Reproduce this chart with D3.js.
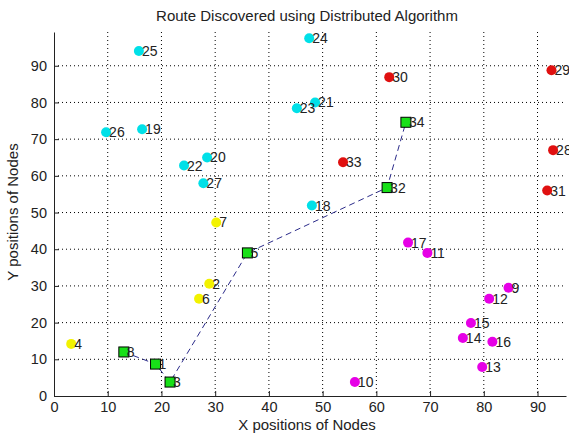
<!DOCTYPE html>
<html>
<head>
<meta charset="utf-8">
<script src="https://cdn.jsdelivr.net/npm/d3@7"></script>
<style>
  body { margin: 0; background: #fff; }
  text { font-family: "Liberation Sans", Arial, sans-serif; fill: #222; }
</style>
</head>
<body>
<svg id="chart" width="569" height="434"></svg>
<script>
// node positions
const nodeIds = [1, 2, 3, 4, 5, 6, 7, 8, 9, 10, 11, 12, 13, 14, 15, 16, 17, 18, 19, 20, 21, 22, 23, 24, 25, 26, 27, 28, 29, 30, 31, 32, 33, 34];
const nodeX = [18.9, 28.9, 21.6, 3.2, 36.0, 27.0, 30.2, 13.0, 84.6, 56.0, 69.5, 81.0, 79.7, 76.1, 77.6, 81.6, 65.9, 48.0, 16.4, 28.5, 48.6, 24.2, 45.2, 47.5, 15.8, 9.7, 27.8, 92.9, 92.6, 62.4, 91.8, 62.0, 53.8, 65.5];
const nodeY = [8.7, 30.6, 3.8, 14.2, 39.0, 26.5, 47.3, 12.0, 29.5, 3.8, 39.0, 26.5, 7.9, 15.8, 19.9, 14.8, 41.8, 51.9, 72.7, 65.0, 80.0, 62.8, 78.4, 97.5, 94.0, 71.9, 58.0, 67.0, 88.8, 86.9, 56.0, 56.8, 63.7, 74.6];
// cluster of each node
const nodeGroup = ["y", "y", "y", "y", "y", "y", "y", "y", "m", "m", "m", "m", "m", "m", "m", "m", "m", "c", "c", "c", "c", "c", "c", "c", "c", "c", "c", "r", "r", "r", "r", "r", "r", "r"];
const route = [8, 1, 3, 5, 32, 34];
const xTicks = [0, 10, 20, 30, 40, 50, 60, 70, 80, 90];
const yTicks = [0, 10, 20, 30, 40, 50, 60, 70, 80, 90];

const groupColor = { y: "#f2f200", m: "#e600e6", c: "#00e0e8", r: "#e01010" };

const svg = d3.select("#chart");
const margin = { top: 32, right: 3, bottom: 38, left: 54 };
const width = 569 - margin.left - margin.right;
const height = 434 - margin.top - margin.bottom;

const x = d3.scaleLinear().domain([0, 95.3]).range([0, width]);
const y = d3.scaleLinear().domain([0, 99.2]).range([height, 0]);

const g = svg.append("g")
  .attr("transform", "translate(" + margin.left + "," + margin.top + ")");

// dotted grid
g.selectAll(".vgrid").data(xTicks.slice(1)).enter().append("line")
  .attr("x1", d => x(d)).attr("x2", d => x(d))
  .attr("y1", 0).attr("y2", height)
  .attr("stroke", "#000").attr("stroke-width", 1)
  .attr("stroke-dasharray", "1,3");
g.selectAll(".hgrid").data(yTicks.slice(1)).enter().append("line")
  .attr("x1", 0).attr("x2", width)
  .attr("y1", d => y(d)).attr("y2", d => y(d))
  .attr("stroke", "#000").attr("stroke-width", 1)
  .attr("stroke-dasharray", "1,3");

// axes with inward ticks
const xAxis = g.append("g")
  .attr("transform", "translate(0," + height + ")")
  .call(d3.axisBottom(x).tickValues(xTicks).tickSize(-5).tickPadding(6).tickSizeOuter(0));
const yAxis = g.append("g")
  .call(d3.axisLeft(y).tickValues(yTicks).tickSize(-5).tickPadding(7).tickSizeOuter(0));
[xAxis, yAxis].forEach(a => {
  a.select(".domain").attr("stroke", "#222");
  a.selectAll(".tick line").attr("stroke", "#222");
  a.selectAll("text").style("font-size", "14.5px").attr("fill", "#222");
});

// route
const byId = {};
nodeIds.forEach((id, i) => byId[id] = i);
g.append("path")
  .datum(route)
  .attr("fill", "none")
  .attr("stroke", "#2b2b8a")
  .attr("stroke-width", 1)
  .attr("stroke-dasharray", "6,4")
  .attr("d", d3.line().x(id => x(nodeX[byId[id]])).y(id => y(nodeY[byId[id]])));

const onRoute = new Set(route);

// nodes
nodeIds.forEach((id, i) => {
  const cx = x(nodeX[i]), cy = y(nodeY[i]);
  if (onRoute.has(id)) {
    g.append("rect")
      .attr("x", cx - 5).attr("y", cy - 5)
      .attr("width", 10).attr("height", 10)
      .attr("fill", "#18e018").attr("stroke", "#000").attr("stroke-width", 1);
  } else {
    g.append("circle")
      .attr("cx", cx).attr("cy", cy).attr("r", 5)
      .attr("fill", groupColor[nodeGroup[i]]);
  }
  g.append("text")
    .attr("x", cx + 3).attr("y", cy + 5)
    .style("font-size", "14px")
    .text(id);
});

// title and labels
svg.append("text")
  .attr("x", 307).attr("y", 21)
  .attr("text-anchor", "middle")
  .style("font-size", "15px")
  .text("Route Discovered using Distributed Algorithm");
svg.append("text")
  .attr("x", 307).attr("y", 430)
  .attr("text-anchor", "middle")
  .style("font-size", "15px")
  .text("X positions of Nodes");
svg.append("text")
  .attr("transform", "translate(18,212) rotate(-90)")
  .attr("text-anchor", "middle")
  .style("font-size", "15px")
  .text("Y positions of Nodes");
</script>
</body>
</html>
